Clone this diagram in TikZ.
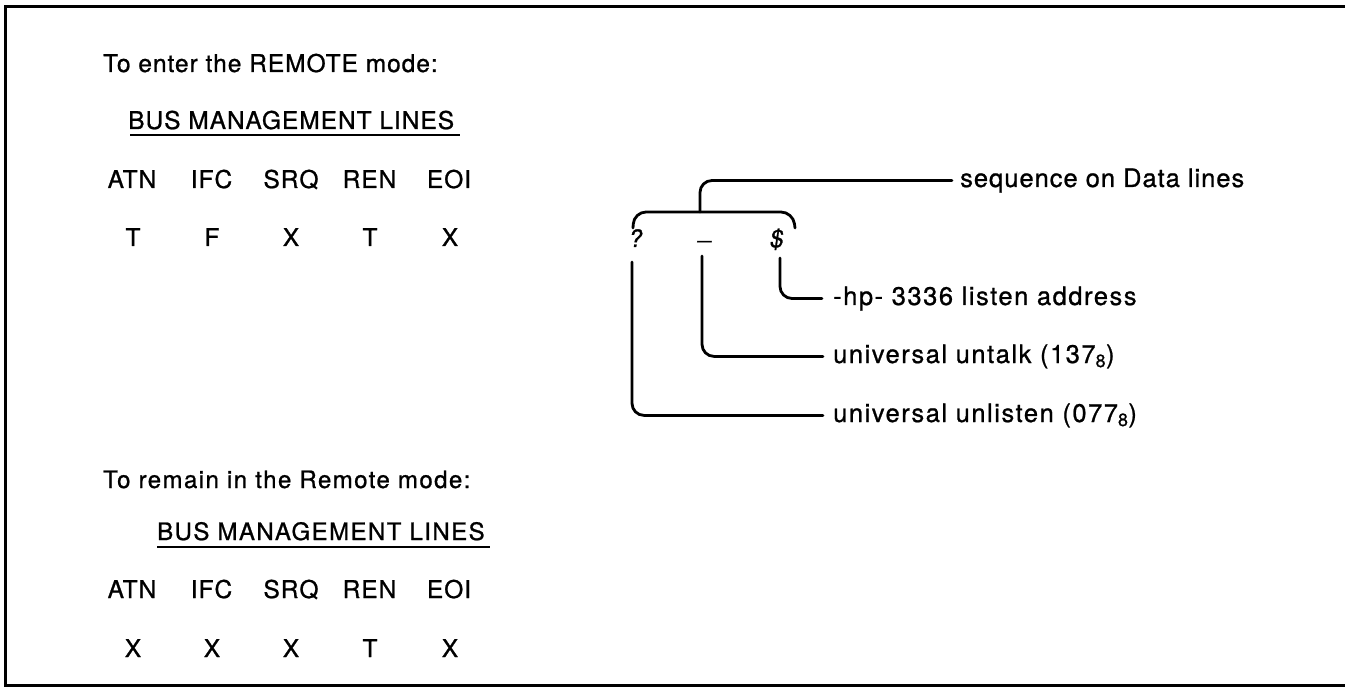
\documentclass[tikz,border=0pt]{standalone}
\usepackage{fontspec}
\setmainfont{TeX Gyre Heros}
\newfontfamily\fA{TeX Gyre Heros}[LetterSpace=4,FakeBold=0.9]
\newfontfamily\fB{TeX Gyre Heros}[LetterSpace=6,FakeBold=0.9]
\newfontfamily\fR{TeX Gyre Heros}[LetterSpace=6,FakeBold=0.9]
\newfontfamily\fS{TeX Gyre Heros}[LetterSpace=3.8,FakeBold=0.9]
\newfontfamily\fC{TeX Gyre Heros}[FakeBold=1.2,FakeSlant=0.15]
\begin{document}
\begin{tikzpicture}[x=1pt,y=-1pt,
  txtA/.style={font={\fontsize{24.5}{28}\selectfont\fA},inner sep=0pt},
  txtB/.style={font={\fontsize{24}{28}\selectfont\fB},inner sep=0pt},
  txtR/.style={font={\fontsize{25.5}{28}\selectfont\fR},inner sep=0pt,anchor=base west},
  txtS/.style={font={\fontsize{25.5}{28}\selectfont\fS},inner sep=0pt,anchor=base west},
  col/.style={txtA,anchor=base},
  seqch/.style={font={\fontsize{24}{28}\selectfont\fC},inner sep=0pt,anchor=base},
  conn/.style={line width=2.8pt,rounded corners=12pt,line cap=round},
  uline/.style={line width=2.5pt},
  frame/.style={line width=3pt}]
\useasboundingbox (0,0) rectangle (1345,687);
% frame
\draw[frame] (1345,7) -- (5,7) -- (5,685) -- (1345,685);

% upper block
\node[txtA,anchor=base west] (t1) at (103,72) {To enter the REMOTE mode:};
\node[txtA,anchor=base west] (b1) at (128,129) {BUS MANAGEMENT LINES};
\draw[uline] (130,135) -- (460,135);
\node[col] (h1a) at (132,188) {ATN};
\node[col] (h1b) at (211.5,188) {IFC};
\node[col] (h1c) at (291,188) {SRQ};
\node[col] (h1d) at (369.5,188) {REN};
\node[col] (h1e) at (449,188) {EOI};
\node[col] (v1a) at (133,246) {T};
\node[col] (v1b) at (212,246) {F};
\node[col] (v1c) at (291,246) {X};
\node[col] (v1d) at (370,246) {T};
\node[col] (v1e) at (450,246) {X};

% lower block
\node[txtB,anchor=base west] (t2) at (103,488) {To remain in the Remote mode:};
\node[txtB,anchor=base west] (b2) at (157,540) {BUS MANAGEMENT LINES};
\draw[uline] (157,547) -- (490,547);
\node[col] (h2a) at (132,598) {ATN};
\node[col] (h2b) at (211.5,598) {IFC};
\node[col] (h2c) at (291,598) {SRQ};
\node[col] (h2d) at (369.5,598) {REN};
\node[col] (h2e) at (449,598) {EOI};
\node[col] (v2a) at (133,657) {X};
\node[col] (v2b) at (212,657) {X};
\node[col] (v2c) at (291,657) {X};
\node[col] (v2d) at (370,657) {T};
\node[col] (v2e) at (450,657) {X};

% data sequence
\node[seqch] (cq) at (635,247) {?};
\node[seqch] (cu) at (705,247) {\raisebox{9pt}{\_}};
\node[seqch] (cd) at (776,247) {\$};

\node[txtS] (seq) at (960,187) {sequence on Data lines};
\node[txtR] (addr) at (833,305) {-hp- 3336 listen address};
\node[txtR] (untalk) at (833,363) {universal untalk (137\textsubscript{8})};
\node[txtR] (unlisten) at (833,422) {universal unlisten (077\textsubscript{8})};

% brace over the sequence
\coordinate (bl) at (633,228);
\coordinate (br) at (795,228);
\coordinate (stem) at (700,212);
\draw[conn] (bl) -- (634,212) -- (793,212) -- (br);
\draw[conn] (stem) |- ([xshift=-8pt]seq.west);

% leaders
\coordinate (sd) at (780,258);
\coordinate (su) at (702,256);
\coordinate (sq) at (632,262);
\draw[conn] (sd) |- ([xshift=-11pt]addr.west);
\draw[conn] (su) |- ([xshift=-10pt]untalk.west);
\draw[conn] (sq) |- ([xshift=-10pt]unlisten.west);
\end{tikzpicture}
\end{document}
